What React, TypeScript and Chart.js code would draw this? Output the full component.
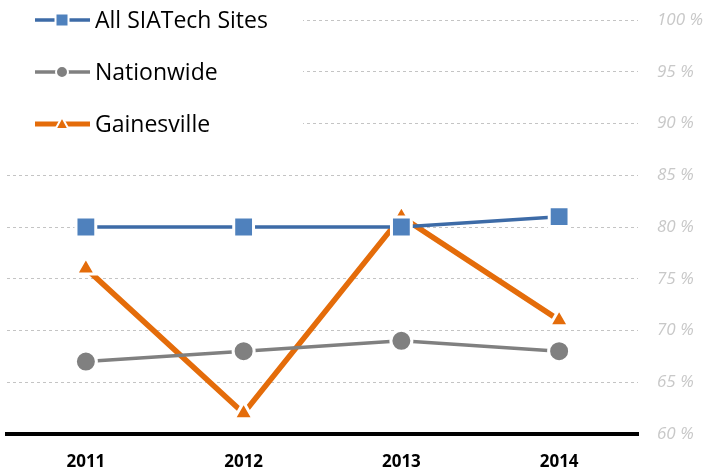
import React, { useEffect, useRef } from "react";
import { Chart, registerables } from "chart.js";

Chart.register(...registerables);

const years = ["2011", "2012", "2013", "2014"];
const siatech = [80, 80, 80, 81];
const nationwide = [67, 68, 69, 68];
const gainesville = [76, 62, 81, 71];
const seriesNames = ["All SIATech Sites", "Nationwide", "Gainesville"];
const yMin = 60;
const yMax = 100;
const yStep = 5;

const BLUE_LINE = "#3D6BA7";
const BLUE_MARK = "#4F81BD";
const GRAY = "#808080";
const ORANGE = "#E46C0A";

const legendPlugin = {
  id: "customLegend",
  beforeDatasetsDraw(chart: any) {
    const ctx = chart.ctx;
    ctx.save();
    ctx.fillStyle = "#ffffff";
    ctx.fillRect(0, 0, 303, 150);
    const rows = [
      { y: 20, line: BLUE_LINE, mark: BLUE_MARK, lw: 3.5, style: "rect", name: seriesNames[0] },
      { y: 72, line: GRAY, mark: GRAY, lw: 3.5, style: "circle", name: seriesNames[1] },
      { y: 124, line: ORANGE, mark: ORANGE, lw: 5, style: "triangle", name: seriesNames[2] },
    ];
    for (const r of rows) {
      ctx.strokeStyle = r.line;
      ctx.lineWidth = r.lw;
      ctx.lineCap = "butt";
      ctx.beginPath();
      ctx.moveTo(35, r.y);
      ctx.lineTo(90, r.y);
      ctx.stroke();
      ctx.fillStyle = r.mark;
      ctx.strokeStyle = "#ffffff";
      ctx.lineWidth = 2;
      ctx.beginPath();
      const cx = 62;
      if (r.style === "rect") {
        ctx.rect(cx - 6.5, r.y - 6.5, 13, 13);
      } else if (r.style === "circle") {
        ctx.arc(cx, r.y, 6, 0, Math.PI * 2);
      } else {
        ctx.moveTo(cx, r.y - 7);
        ctx.lineTo(cx + 6.5, r.y + 5);
        ctx.lineTo(cx - 6.5, r.y + 5);
        ctx.closePath();
      }
      ctx.fill();
      ctx.stroke();
      ctx.fillStyle = "#000000";
      ctx.font = "23px 'Open Sans'";
      ctx.textBaseline = "middle";
      ctx.textAlign = "left";
      ctx.fillText(r.name, 95, r.y + 1);
    }
    ctx.restore();
  },
};

export default function App() {
  const ref = useRef<HTMLCanvasElement>(null);
  useEffect(() => {
    if (!ref.current) return;
    const chart = new Chart(ref.current, {
      type: "line",
      data: {
        labels: years,
        datasets: [
          {
            label: seriesNames[0],
            data: siatech,
            borderColor: BLUE_LINE,
            backgroundColor: BLUE_MARK,
            borderWidth: 3.5,
            pointStyle: "rect",
            pointRadius: 14,
            pointBorderColor: "#ffffff",
            pointBorderWidth: 3,
            pointBackgroundColor: BLUE_MARK,
          },
          {
            label: seriesNames[1],
            data: nationwide,
            borderColor: GRAY,
            backgroundColor: GRAY,
            borderWidth: 3.5,
            pointStyle: "circle",
            pointRadius: 10.5,
            pointBorderColor: "#ffffff",
            pointBorderWidth: 3,
            pointBackgroundColor: GRAY,
          },
          {
            label: seriesNames[2],
            data: gainesville,
            borderColor: ORANGE,
            backgroundColor: ORANGE,
            borderWidth: 5.5,
            pointStyle: "triangle",
            pointRadius: 11,
            pointBorderColor: "#ffffff",
            pointBorderWidth: 3,
            pointBackgroundColor: ORANGE,
          },
        ],
      },
      options: {
        animation: false,
        responsive: true,
        maintainAspectRatio: false,
        layout: { autoPadding: false, padding: { left: 7, top: 20, right: 0, bottom: 0 } },
        plugins: { legend: { display: false }, tooltip: { enabled: false } },
        scales: {
          x: {
            offset: true,
            grid: { display: false, drawTicks: false },
            border: { display: true, color: "#000000", width: 4 },
            ticks: {
              color: "#000000",
              font: { family: "'Open Sans'", size: 17, weight: "bold" },
              padding: 18,
            },
            afterFit(scale: any) {
              scale.height = 36;
              scale.paddingLeft = 0;
              scale.paddingRight = 0;
            },
          },
          y: {
            position: "right",
            min: yMin,
            max: yMax,
            grid: {
              color: "#c4c4c4",
              lineWidth: 1,
              drawTicks: false,
            },
            border: { display: false, dash: [3, 3] },
            ticks: {
              stepSize: yStep,
              color: "#c8c8c8",
              padding: 19,
              font: { family: "'Open Sans'", size: 17, style: "italic" },
              callback: (v: any) => `${v} %`,
            },
            afterFit(scale: any) {
              scale.width = 69;
              scale.paddingTop = 0;
              scale.paddingBottom = 0;
            },
          },
        },
      },
      plugins: [legendPlugin],
    });
    return () => chart.destroy();
  }, []);
  return (
    <div style={{ position: "absolute", left: 0, top: 0, width: 707, height: 470 }}>
      <canvas ref={ref} />
    </div>
  );
}
